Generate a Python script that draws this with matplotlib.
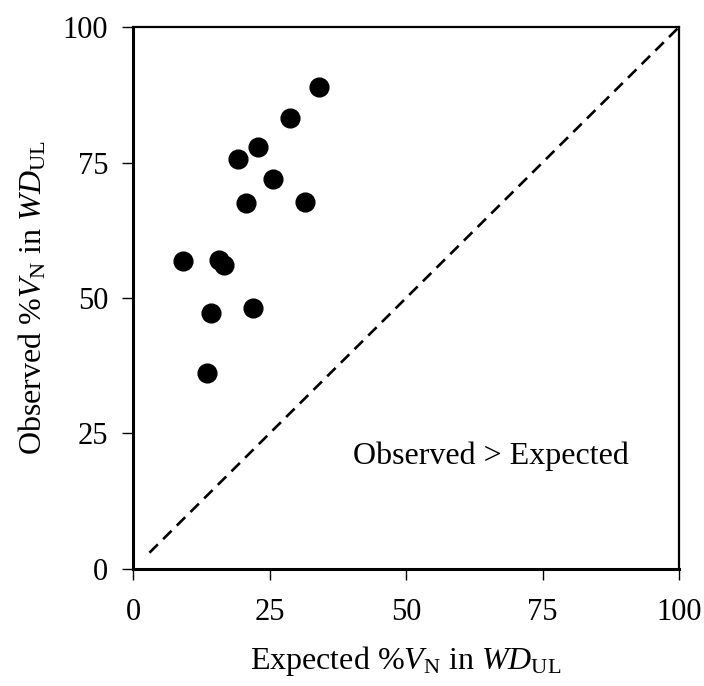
import matplotlib
matplotlib.use('Agg')
import matplotlib.pyplot as plt

plt.rcParams['font.family'] = ['Liberation Serif', 'DejaVu Serif']
plt.rcParams['mathtext.fontset'] = 'custom'
plt.rcParams['mathtext.rm'] = 'Liberation Serif'
plt.rcParams['mathtext.it'] = 'Liberation Serif:italic'

# expected vs observed % V_N in WD_UL
expected = [34.1, 28.8, 22.8, 19.3, 25.7, 20.6, 31.4, 9.1, 15.7, 16.6, 14.3, 21.9, 13.5]
observed = [88.9, 83.3, 77.9, 75.7, 72.0, 67.6, 67.8, 56.8, 57.0, 56.1, 47.3, 48.2, 36.1]
ticks = [0, 25, 50, 75, 100]
line_ends = [3, 100]

fig = plt.figure(figsize=(7.04, 6.86), dpi=100)
ax = fig.add_axes([0.189, 0.1706, 0.7756, 0.79])

ax.plot(line_ends, line_ends, color='black', linestyle=(0, (4.5, 2.8)), linewidth=1.9)
ax.plot(expected, observed, 'o', color='black', markersize=13.5, clip_on=False)

ax.set_xlim(0, 100)
ax.set_ylim(0, 100)
ax.set_xticks(ticks)
ax.set_yticks(ticks)
ax.tick_params(axis='both', labelsize=22, direction='out', length=8, width=1)
ax.tick_params(axis='x', pad=13)
ax.tick_params(axis='y', pad=10)

for side in ['left', 'bottom']:
    ax.spines[side].set_linewidth(2.2)
for side in ['top', 'right']:
    ax.spines[side].set_linewidth(1.6)

ax.set_xlabel(r'Expected %$V_{\rm N}$ in $WD_{\rm UL}$', fontsize=23, labelpad=12)
ax.set_ylabel(r'Observed %$V_{\rm N}$ in $WD_{\rm UL}$', fontsize=23, labelpad=10)

ax.text(65.5, 20.8, 'Observed > Expected', fontsize=23, ha='center', va='center')

fig.savefig('out.png', dpi=100)
